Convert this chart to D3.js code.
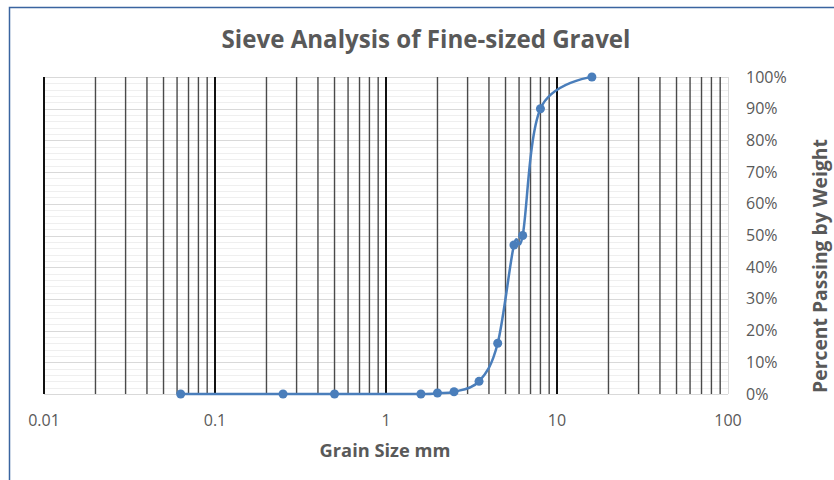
<!DOCTYPE html>
<html>
<head>
<meta charset="utf-8">
<script src="https://cdn.jsdelivr.net/npm/d3@7"></script>
<style>
  html, body { margin: 0; padding: 0; background: #fff; }
  svg { display: block; }
  text { font-family: "Open Sans", "Noto Sans", sans-serif; fill: #595959; }
</style>
</head>
<body>
<svg id="chart" width="834" height="480"></svg>
<script>
// ---- data ----
const grainSizes = [0.063, 0.25, 0.5, 1.6, 2, 2.5, 3.5, 4.5, 5.6, 6.3, 8, 16];
const percentPassing = [0, 0, 0, 0, 0.3, 0.7, 4, 16, 47, 50, 90, 100];
const xTickValues = [0.01, 0.1, 1, 10, 100];
const xTickLabels = ["0.01", "0.1", "1", "10", "100"];
const yTickValues = [0, 10, 20, 30, 40, 50, 60, 70, 80, 90, 100];
const titleText = "Sieve Analysis of Fine-sized Gravel";
const xTitleText = "Grain Size mm";
const yTitleText = "Percent Passing by Weight";

// ---- layout ----
const svg = d3.select("#chart");
const plot = { left: 44, right: 728, top: 77, bottom: 394 };

const x = d3.scaleLog().domain([0.01, 100]).range([plot.left, plot.right]);
const y = d3.scaleLinear().domain([0, 100]).range([plot.bottom, plot.top]);

// outer chart frame (left & top edges visible)
svg.append("path")
  .attr("d", `M9.5,480 L9.5,7.5 L834,7.5`)
  .attr("fill", "none")
  .attr("stroke", "#3a64a0")
  .attr("stroke-width", 1.5);

// horizontal gridlines (minor every 2 %, major every 10 %)
const hMinor = d3.range(0, 101, 2);
svg.append("g").selectAll("line").data(hMinor).join("line")
  .attr("x1", plot.left).attr("x2", plot.right)
  .attr("y1", d => Math.round(y(d)) + 0.5).attr("y2", d => Math.round(y(d)) + 0.5)
  .attr("stroke", d => d % 10 === 0 ? "#d9d9d9" : "#efefef")
  .attr("stroke-width", 1);

// vertical gridlines (log minor + decade majors)
const vLines = [];
for (let e = -2; e < 2; e++) {
  for (let m = 1; m <= 9; m++) vLines.push({ v: m * Math.pow(10, e), major: m === 1 });
}
svg.append("g").selectAll("line").data(vLines).join("line")
  .attr("x1", d => x(d.v)).attr("x2", d => x(d.v))
  .attr("y1", plot.top).attr("y2", plot.bottom)
  .attr("stroke", d => d.major ? "#111" : "#4a4a4a")
  .attr("stroke-width", d => d.major ? 2 : 1.4);
// right edge at 100
svg.append("line")
  .attr("x1", x(100) + 0.5).attr("x2", x(100) + 0.5)
  .attr("y1", plot.top).attr("y2", plot.bottom)
  .attr("stroke", "#d9d9d9");

// x tick labels
svg.append("g").selectAll("text").data(xTickValues).join("text")
  .attr("x", d => x(d)).attr("y", 426)
  .attr("text-anchor", "middle")
  .attr("font-size", 16)
  .text((d, i) => xTickLabels[i]);

// y tick labels (right side)
svg.append("g").selectAll("text").data(yTickValues).join("text")
  .attr("x", 746).attr("y", d => y(d) + 5.5)
  .attr("text-anchor", "start")
  .attr("font-size", 16)
  .text(d => d + "%");

// series line (smoothed) and markers
const pts = grainSizes.map((g, i) => [g, percentPassing[i]]);
const line = d3.line()
  .x(d => x(d[0])).y(d => y(d[1]))
  .curve(d3.curveCardinal.tension(0));
svg.append("path")
  .datum(pts)
  .attr("d", line)
  .attr("fill", "none")
  .attr("stroke", "#4a7ebb")
  .attr("stroke-width", 2.5)
  .attr("stroke-linejoin", "round");
svg.append("g").selectAll("circle").data(pts).join("circle")
  .attr("cx", d => x(d[0])).attr("cy", d => y(d[1]))
  .attr("r", 4.5)
  .attr("fill", "#4a7ebb");

// helper: fit text width
function fit(sel, w) {
  const len = sel.node().getComputedTextLength();
  const fs = parseFloat(sel.attr("font-size"));
  sel.attr("font-size", fs * w / len);
}

// title
const t = svg.append("text")
  .attr("x", 426).attr("y", 48)
  .attr("text-anchor", "middle")
  .attr("font-size", 22).attr("font-weight", 700)
  .text(titleText);
fit(t, 409);

// x axis title
const xt = svg.append("text")
  .attr("x", 385).attr("y", 457)
  .attr("text-anchor", "middle")
  .attr("font-size", 16).attr("font-weight", 700)
  .text(xTitleText);
fit(xt, 131);

// y axis title (rotated)
const yt = svg.append("text")
  .attr("transform", "translate(827,266) rotate(-90)")
  .attr("text-anchor", "middle")
  .attr("font-size", 16).attr("font-weight", 700)
  .text(yTitleText);
fit(yt, 254);
</script>
</body>
</html>
